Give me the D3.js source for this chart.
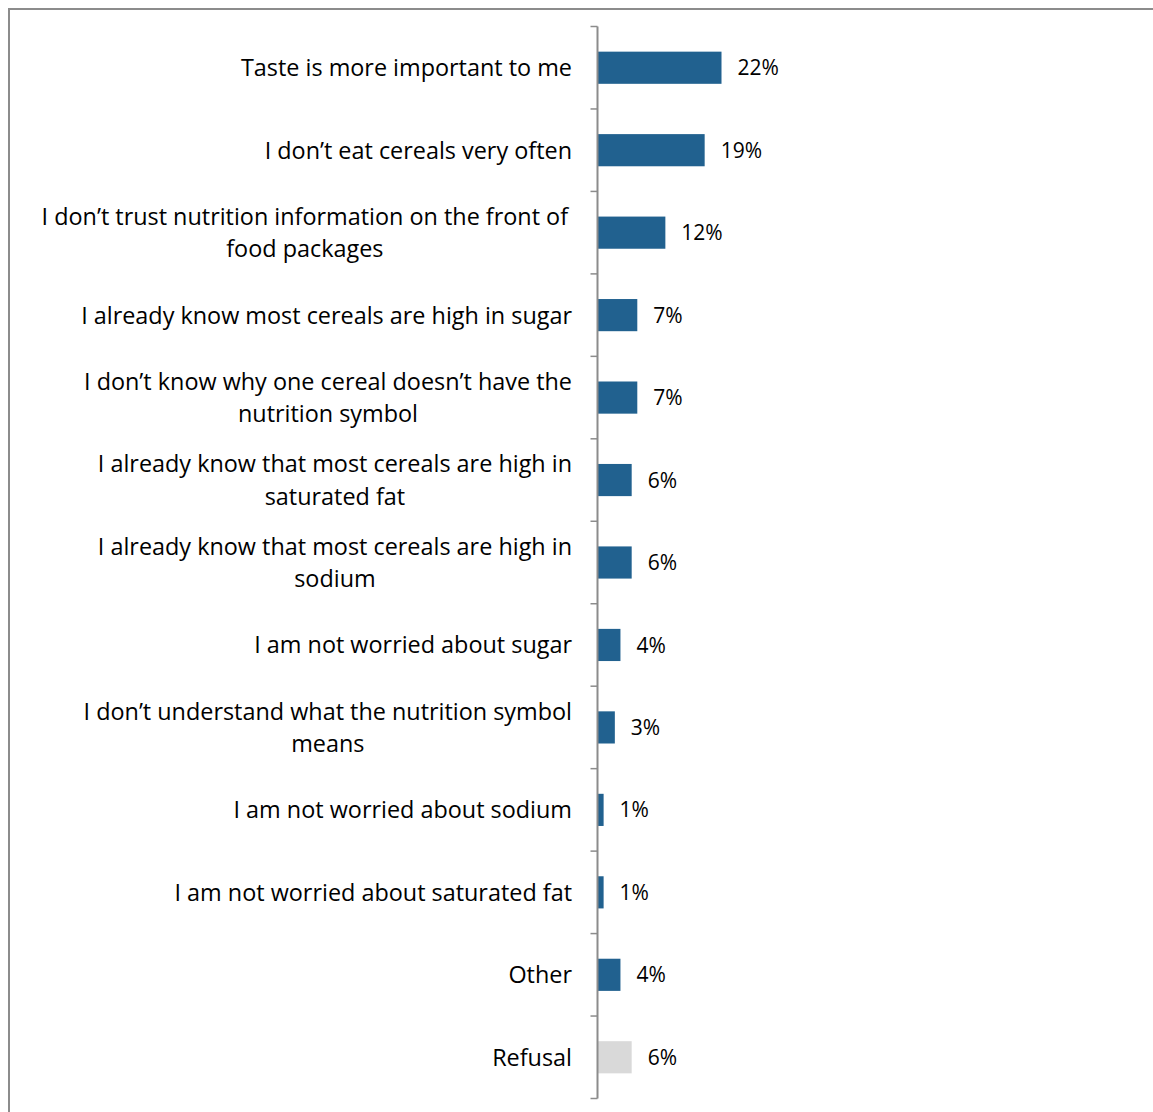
<!DOCTYPE html>
<html>
<head>
<meta charset="utf-8">
<script src="https://cdn.jsdelivr.net/npm/d3@7"></script>
<style>
  html, body { margin: 0; padding: 0; background: #fff; }
  svg { display: block; }
  text { font-family: "Open Sans", "Noto Sans", sans-serif; fill: #000; }
</style>
</head>
<body>
<svg id="chart" width="1153" height="1112"></svg>
<script>
// Reasons given (share of respondents, %); "\n" marks where a label wraps
const categories = [
  "Taste is more important to me",
  "I don\u2019t eat cereals very often",
  "I don\u2019t trust nutrition information on the front of\nfood packages",
  "I already know most cereals are high in sugar",
  "I don\u2019t know why one cereal doesn\u2019t have the\nnutrition symbol",
  "I already know that most cereals are high in\nsaturated fat",
  "I already know that most cereals are high in\nsodium",
  "I am not worried about sugar",
  "I don\u2019t understand what the nutrition symbol\nmeans",
  "I am not worried about sodium",
  "I am not worried about saturated fat",
  "Other",
  "Refusal"
];
const values = [22, 19, 12, 7, 7, 6, 6, 4, 3, 1, 1, 4, 6];
const valueLabels = ["22%", "19%", "12%", "7%", "7%", "6%", "6%", "4%", "3%", "1%", "1%", "4%", "6%"];

const svg = d3.select("#chart");

// outer frame
svg.append("rect")
  .attr("x", 9).attr("y", 9)
  .attr("width", 1160).attr("height", 1120)
  .attr("fill", "none")
  .attr("stroke", "#8c8c8c")
  .attr("stroke-width", 2);

const axisX = 597.5;
const plotTop = 26.5, plotBottom = 1098.5;

const y = d3.scaleBand()
  .domain(categories)
  .range([plotTop, plotBottom])
  .paddingInner(0.61)
  .paddingOuter(0.305);

const x = d3.scaleLinear()
  .domain([0, 22])
  .range([axisX + 0.5, axisX + 0.5 + 123.5]);

// bars
svg.append("g")
  .selectAll("rect")
  .data(categories)
  .join("rect")
  .attr("x", x(0))
  .attr("y", d => y(d))
  .attr("width", (d, i) => x(values[i]) - x(0))
  .attr("height", y.bandwidth())
  .attr("fill", d => d === "Refusal" ? "#d9d9d9" : "#21618f");

// value labels
svg.append("g")
  .selectAll("text")
  .data(categories)
  .join("text")
  .attr("x", (d, i) => x(values[i]) + 16)
  .attr("y", d => y(d) + y.bandwidth() / 2)
  .attr("dy", "0.36em")
  .attr("font-size", 21)
  .text((d, i) => valueLabels[i]);

// category axis: line with ticks at band boundaries
const bounds = d3.range(categories.length + 1)
  .map(i => plotTop + i * (plotBottom - plotTop) / categories.length);
const axisG = svg.append("g");
axisG.append("line")
  .attr("x1", axisX).attr("x2", axisX)
  .attr("y1", plotTop).attr("y2", plotBottom)
  .attr("stroke", "#8c8c8c").attr("stroke-width", 2);
axisG.selectAll("line.tick")
  .data(bounds)
  .join("line")
  .attr("class", "tick")
  .attr("x1", axisX - 7).attr("x2", axisX)
  .attr("y1", d => d).attr("y2", d => d)
  .attr("stroke", "#8c8c8c").attr("stroke-width", 1.5);

// category labels, centred as a block whose right edge sits before the axis
const labelRight = 572;
const lineHeight = 32.5;
const labelG = svg.append("g").attr("font-size", 23.4);

categories.forEach(cat => {
  const lines = cat.split("\n");
  const t = labelG.append("text").attr("text-anchor", "middle");
  const spans = lines.map(l => t.append("tspan").text(l));
  const blockW = d3.max(spans, s => s.node().getComputedTextLength());
  const cx = labelRight - blockW / 2;
  const cy = y(cat) + y.bandwidth() / 2;
  spans.forEach((s, i) => {
    s.attr("x", cx)
      .attr("y", cy + (i - (lines.length - 1) / 2) * lineHeight)
      .attr("dy", "0.36em");
  });
});
</script>
</body>
</html>
